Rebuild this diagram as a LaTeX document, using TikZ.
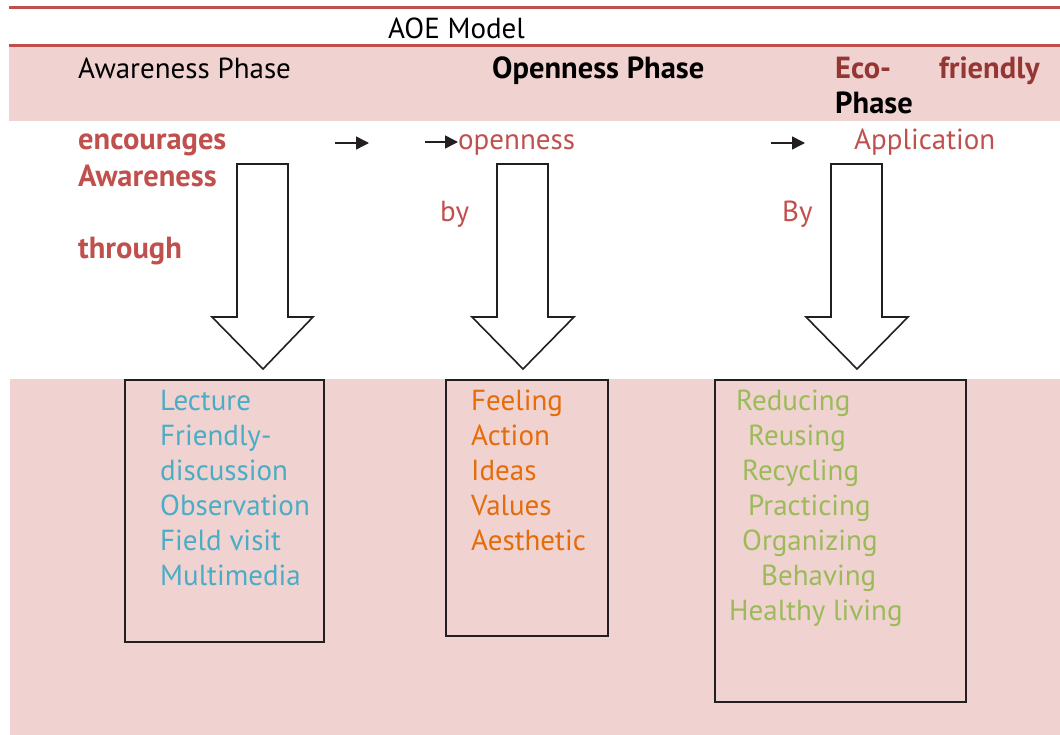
\documentclass[tikz,border=0pt]{standalone}
\usepackage{fontspec}
\setmainfont{PT Sans}
\usetikzlibrary{arrows.meta}

\definecolor{rule}{HTML}{C0504D}
\definecolor{band}{HTML}{F0D2D1}
\definecolor{redtxt}{HTML}{C0504D}
\definecolor{darkred}{HTML}{943634}
\definecolor{ink}{HTML}{231F20}
\definecolor{bluetxt}{HTML}{4BACC6}
\definecolor{orangetxt}{HTML}{E46C0A}
\definecolor{greentxt}{HTML}{9BBB59}

\tikzset{
  txt/.style={inner sep=0pt, anchor=base west, font=\fontsize{29}{35}\selectfont},
  txtb/.style={txt, font=\fontsize{30.5}{35}\selectfont\bfseries},
  txtbr/.style={txtb, anchor=base east},
  hrule/.style={draw=rule, line width=3pt},
  bigarrow/.style={draw=ink, line width=1.6pt, fill=white, line join=miter},
  listbox/.style={draw=ink, line width=2pt},
  smallarrow/.style={draw=ink, line width=1.5pt, -{Triangle[length=13pt,width=13pt]}}
}

\begin{document}
\begin{tikzpicture}[x=1pt,y=-1pt]
\useasboundingbox (0,0) rectangle (1060,735);

% pink bands
\fill[band] (9,46) rectangle (1060,121);
\fill[band] (10,379) rectangle (1060,735);

% header rules
\draw[hrule] (9,8) -- (1060,8);
\draw[hrule] (9,46) -- (1060,46);

% title and phase headings
\node[txt] (title) at (388,39) {AOE Model};
\node[txt] (hA) at (78,79) {Awareness Phase};
\node[txtb] (hO) at (492,79) {Openness Phase};
\node[txtb, text=darkred] (hE1) at (835,79) {Eco-};
\node[txtbr, text=darkred] (hE2) at (1040,79) {friendly};
\node[txtb] (hE3) at (835,114) {Phase};

% phase descriptions
\node[txtb, text=redtxt] (enc) at (78,150) {encourages};
\node[txtb, text=redtxt] (awa) at (78,187) {Awareness};
\node[txtb, text=redtxt] (thr) at (78,259) {through};
\node[txt, text=redtxt] (open) at (458,150) {openness};
\node[txt, text=redtxt] (by1) at (440,222) {by};
\node[txt, text=redtxt] (app) at (854,150) {Application};
\node[txt, text=redtxt] (by2) at (782,222) {By};

% small connecting arrows
\coordinate (a1s) at (335,143);
\coordinate (a1e) at (369,143);
\coordinate (a2s) at (425,142);
\coordinate (a3s) at (771,143);
\coordinate (a3e) at (805,143);
\draw[smallarrow] (a1s) -- (a1e);
\draw[smallarrow] (a2s) -- (open.west |- a2s);
\draw[smallarrow] (a3s) -- (a3e);

% big downward arrows
\draw[bigarrow] (237,164) -- (288,164) -- (288,317) -- (313,317) -- (263,369)
  -- (212,317) -- (237,317) -- cycle;
\draw[bigarrow] (497,164) -- (548,164) -- (548,317) -- (574,317) -- (523,369)
  -- (472,317) -- (497,317) -- cycle;
\draw[bigarrow] (831,164) -- (882,164) -- (882,317) -- (908,317) -- (857,369)
  -- (806,317) -- (831,317) -- cycle;

% list boxes
\draw[listbox] (125,380) rectangle (324,642);
\draw[listbox] (446,380) rectangle (608,636);
\draw[listbox] (715,380) rectangle (966,702);

% awareness methods
\node[txt, text=bluetxt] (l1) at (160,410) {Lecture};
\node[txt, text=bluetxt] (l2) at (160,445) {Friendly-};
\node[txt, text=bluetxt] (l3) at (160,480) {discussion};
\node[txt, text=bluetxt] (l4) at (160,515) {Observation};
\node[txt, text=bluetxt] (l5) at (160,550) {Field visit};
\node[txt, text=bluetxt] (l6) at (160,585) {Multimedia};

% openness items
\node[txt, text=orangetxt] (o1) at (471,410) {Feeling};
\node[txt, text=orangetxt] (o2) at (471,445) {Action};
\node[txt, text=orangetxt] (o3) at (471,480) {Ideas};
\node[txt, text=orangetxt] (o4) at (471,515) {Values};
\node[txt, text=orangetxt] (o5) at (471,550) {Aesthetic};

% eco-friendly practices
\node[txt, text=greentxt] (e1) at (736,410) {Reducing};
\node[txt, text=greentxt] (e2) at (748,445) {Reusing};
\node[txt, text=greentxt] (e3) at (742,480) {Recycling};
\node[txt, text=greentxt] (e4) at (748,515) {Practicing};
\node[txt, text=greentxt] (e5) at (742,550) {Organizing};
\node[txt, text=greentxt] (e6) at (761,585) {Behaving};
\node[txt, text=greentxt] (e7) at (729,620) {Healthy living};
\end{tikzpicture}
\end{document}
